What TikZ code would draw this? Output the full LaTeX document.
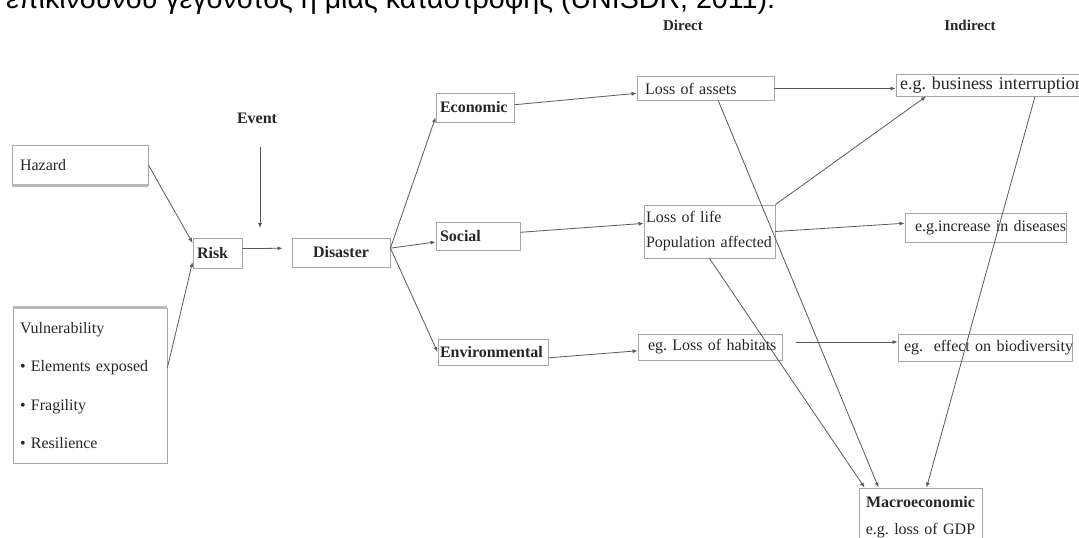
\documentclass[tikz,border=0pt]{standalone}
\usepackage{fontspec}
\setmainfont{Liberation Serif}
\newfontfamily\greekfont{Liberation Sans}
\usetikzlibrary{arrows.meta}
\frenchspacing
\tikzset{
  box/.style={draw=gray!70, line width=0.9pt, inner ysep=0pt, inner xsep=4pt,
    align=left, text=black!85, font=\fontsize{16}{19}\selectfont},
  boldbox/.style={box, font=\fontsize{16}{19}\selectfont\bfseries},
  hdr/.style={text=black!85, font=\fontsize{15}{18}\selectfont\bfseries},
  link/.style={draw=black!65, line width=0.8pt, -{Latex[length=5pt,width=4pt]}},
  shade/.style={draw=gray!55, line width=3pt},
}
\begin{document}
\begin{tikzpicture}[x=1pt,y=-1pt]
      \useasboundingbox (0,0) rectangle (1079,538);
      \node[anchor=base west, inner sep=0pt, font=\greekfont\fontsize{28.6}{30}\selectfont]
        (greek) at (6,9) {επικίνδυνου γεγονότος ή μιας καταστροφής (UNISDR, 2011).};
      \draw
        (683,25) node[hdr] (direct){Direct}
        (970,25) node[hdr] (indirect){Indirect}
        (257,118) node[hdr, font=\fontsize{16}{19}\selectfont\bfseries] (event){Event}
        (80,165) node[box, inner xsep=8pt, text width=120pt, minimum height=40pt] (hazard){Hazard}
        (90,385.5) node[box, inner xsep=7pt, text width=140pt, minimum height=155pt,
          font=\fontsize{16}{38.5}\selectfont] (vuln){Vulnerability\\\mbox{• Elements exposed}\\• Fragility\\• Resilience}
        (217.5,253) node[boldbox, text width=41pt, minimum height=30pt] (risk){Risk}
        (341,252.5) node[boldbox, align=center, text width=90pt, minimum height=29pt] (disaster){Disaster}
        (475,107.5) node[boldbox, text width=70pt, minimum height=29pt] (economic){Economic}
        (478,236) node[boldbox, text width=76pt, minimum height=28pt] (social){Social}
        (493,352) node[boldbox, inner xsep=2pt, text width=106pt, minimum height=26pt] (environ){\mbox{Environmental}}
        (705.5,88.5) node[box, inner xsep=8pt, text width=121pt, minimum height=24pt] (assets){\mbox{Loss of assets}}
        (709.5,231.5) node[box, inner xsep=2pt, text width=127pt, minimum height=53pt,
          font=\fontsize{16}{25}\selectfont] (life){Loss of life\\\mbox{Population affected}}
        (710,347) node[box, inner xsep=10pt, text width=124pt, minimum height=26pt] (habitats){\mbox{eg. Loss of habitats}}
        (991,85) node[box, text width=182pt, minimum height=22pt,
          font=\fontsize{18}{20}\selectfont] (business){\mbox{e.g. business interruption}}
        (985.5,227.5) node[box, inner xsep=10pt, text width=141pt, minimum height=29pt] (diseases){\mbox{e.g.increase in diseases}}
        (985,347.5) node[box, inner xsep=6pt, text width=162pt, minimum height=27pt] (biodiv){\mbox{eg.\ \ effect on biodiversity}}
        (920.5,517) node[box, align=center, inner xsep=2pt, text width=119pt, minimum height=58pt,
          font=\fontsize{16}{27}\selectfont] (macro){\textbf{Macroeconomic}\\\mbox{e.g. loss of GDP}};
      \draw[shade] (hazard.south west) -- (hazard.south east);
      \draw[shade] (vuln.north west) -- (vuln.north east);
      \coordinate (eventtip) at (260,228);
      \coordinate (habout) at (796,342);
      \begin{scope}[link]
        \draw (hazard.east) to (risk.158);
        \draw (vuln.13.5) to (risk.200);
        \draw[shorten <=20pt] (eventtip |- event.south) to (eventtip);
        \draw[shorten >=9pt] (risk.10) to (disaster.175);
        \draw (disaster.5) to (economic.194);
        \draw (disaster.5) to (social.188);
        \draw (disaster.5) to (environ.west);
        \draw (economic.4) to (assets.184);
        \draw (social.5) to (life.173);
        \draw (environ.354) to (habitats.183);
        \draw (assets.east) to (assets.east -| business.west);
        \draw (life.east) to (diseases.177);
        \draw (life.north east) to (business.190.6);
        \draw (habout) to (habout -| biodiv.west);
        \draw (assets.316) to ([xshift=20pt]macro.north west);
        \draw (life.south) to ([xshift=6pt]macro.north west);
        \draw ([xshift=44pt]business.south) to ([xshift=68pt]macro.north west);
      \end{scope}
    \end{tikzpicture}
\end{document}
